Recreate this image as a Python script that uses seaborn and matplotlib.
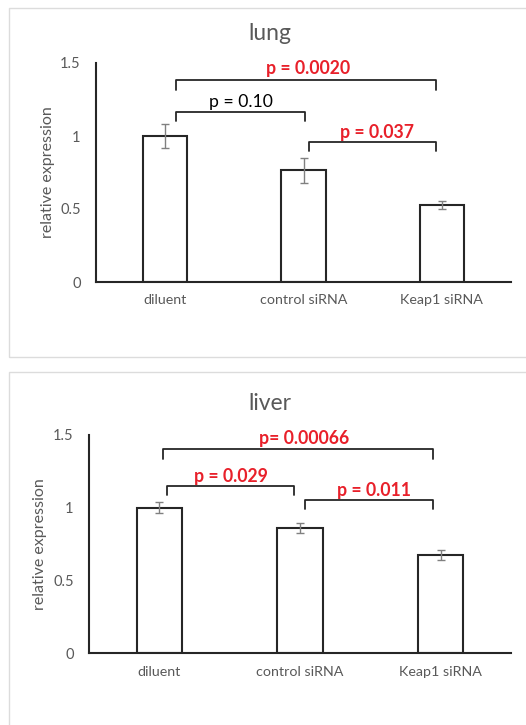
import numpy as np
import pandas as pd
import seaborn as sns
import matplotlib.pyplot as plt
from matplotlib.patches import Rectangle

categories = ["diluent", "control siRNA", "Keap1 siRNA"]

lung_mean = [1.0, 0.765, 0.53]
lung_err = [0.085, 0.085, 0.027]
liver_mean = [1.0, 0.86, 0.675]
liver_err = [0.036, 0.037, 0.037]

# brackets: (left bar, right bar, p-value text, significant?)
lung_p = [(0, 2, "p = 0.0020", True), (0, 1, "p = 0.10", False), (1, 2, "p = 0.037", True)]
liver_p = [(0, 2, "p= 0.00066", True), (0, 1, "p = 0.029", True), (1, 2, "p = 0.011", True)]

sns.set_style("white")
plt.rcParams['font.family'] = ['Lato', 'DejaVu Sans']

GRAY = "#595959"
RED = "#e8202a"
LINE = "#262626"

fig = plt.figure(figsize=(5.26, 7.25), dpi=100)

# light panel frames like the excel chart areas
fig.patches.append(Rectangle((0.017, 0.5076), 1.1, 0.481, transform=fig.transFigure,
                             fill=False, edgecolor="#dcdcdc", lw=1))
fig.patches.append(Rectangle((0.017, -0.05), 1.1, 0.537, transform=fig.transFigure,
                             fill=False, edgecolor="#dcdcdc", lw=1))


def panel(rect, title, title_y, means, errs, brackets, geom):
    ax = fig.add_axes(rect)
    df = pd.DataFrame({"group": categories, "value": means})
    sns.barplot(data=df, x="group", y="value", ax=ax, color="white", edgecolor=LINE,
                linewidth=1.5, width=0.32, errorbar=None)
    ax.errorbar(range(len(categories)), means, yerr=errs, fmt="none",
                ecolor="#808080", elinewidth=1, capsize=3, capthick=1)
    ax.set_xlim(-0.5, 2.5)
    ax.set_ylim(0, 1.5)
    ax.set_yticks([0, 0.5, 1, 1.5])
    ax.set_yticklabels(["0", "0.5", "1", "1.5"])
    ax.tick_params(axis="y", length=0, pad=11, labelsize=10.5, labelcolor=GRAY)
    ax.tick_params(axis="x", length=0, pad=9, labelsize=10.3, labelcolor=GRAY)
    ax.set_xlabel("")
    ax.set_ylabel("relative expression", fontsize=11.5, color=GRAY)
    ax.yaxis.set_label_coords(-0.099, 0.5)
    sns.despine(ax=ax)
    for s in ["left", "bottom"]:
        ax.spines[s].set_color(LINE)
        ax.spines[s].set_linewidth(1.5)
    fig.text(270 / 526, title_y, title, ha="center", va="center", fontsize=16.5, color=GRAY)

    for (a, b, label, sig), (x1, x2, y, low, tx, ty) in zip(brackets, geom):
        ax.plot([x1, x1, x2, x2], [low, y, y, low], color=LINE, lw=1.3, clip_on=False)
        ax.text(tx, ty, label, ha="center", va="center", fontsize=12.7,
                color=RED if sig else "black", fontweight="bold" if sig else "normal")
    return ax


lung_geom = [(0.08, 1.96, 1.384, 1.315, 1.03, 1.459),
             (0.08, 1.01, 1.164, 1.10, 0.547, 1.233),
             (1.04, 1.96, 0.959, 0.897, 1.529, 1.027)]
liver_geom = [(0.025, 1.947, 1.399, 1.335, 1.032, 1.472),
              (0.051, 0.956, 1.147, 1.083, 0.507, 1.211),
              (1.039, 1.947, 1.049, 0.99, 1.528, 1.12)]

panel([96 / 526, 1 - 282 / 725, 415 / 526, 219 / 725], "lung", 1 - 34 / 725,
      lung_mean, lung_err, lung_p, lung_geom)
panel([89 / 526, 1 - 653.3 / 725, 422 / 526, 218.6 / 725], "liver", 1 - 403 / 725,
      liver_mean, liver_err, liver_p, liver_geom)

fig.savefig("out.png", dpi=100)
